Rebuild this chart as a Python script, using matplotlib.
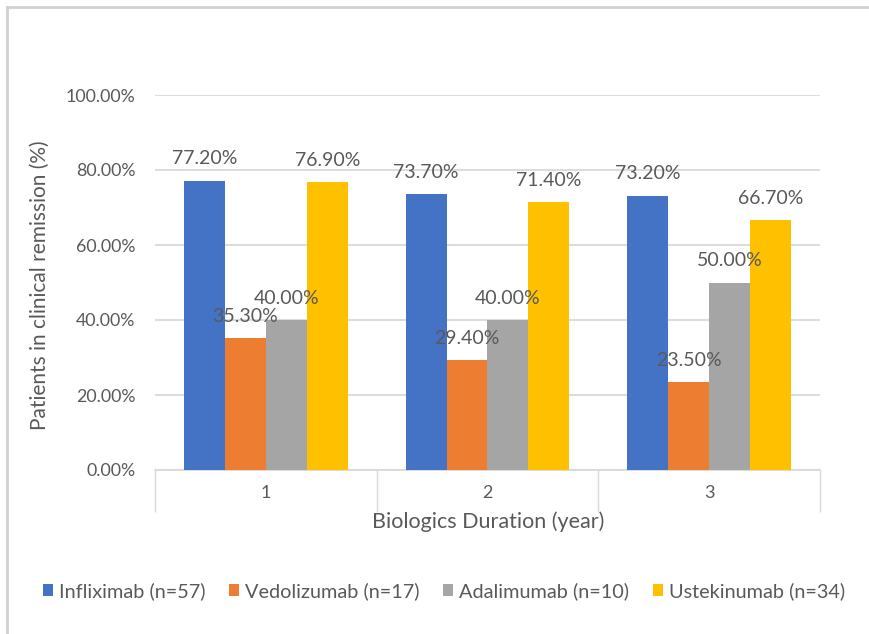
import matplotlib
matplotlib.use("Agg")
import matplotlib.pyplot as plt
import numpy as np
from matplotlib.lines import Line2D
from matplotlib.patches import Patch

plt.rcParams['font.family'] = ['Lato', 'DejaVu Sans']

categories = ["1", "2", "3"]
series_names = ["Infliximab (n=57)", "Vedolizumab (n=17)", "Adalimumab (n=10)", "Ustekinumab (n=34)"]
infliximab = [77.2, 73.7, 73.2]
vedolizumab = [35.3, 29.4, 23.5]
adalimumab = [40.0, 40.0, 50.0]
ustekinumab = [76.9, 71.4, 66.7]
yticks = [0, 20, 40, 60, 80, 100]

colors = ["#4472C4", "#ED7D31", "#A5A5A5", "#FFC000"]
text_color = "#595959"
grid_color = "#D9D9D9"

fig = plt.figure(figsize=(8.7, 6.34), dpi=100)
ax = fig.add_axes([155/870, 1-470/634, (820-155)/870, (470-95)/634])

x = np.arange(1, len(categories) + 1)
w = 41/222
all_series = [infliximab, vedolizumab, adalimumab, ustekinumab]
for k, (vals, c, name) in enumerate(zip(all_series, colors, series_names)):
    pos = x + (k - 1.5) * w
    ax.bar(pos, vals, width=w, color=c, label=name, zorder=3)
    for px, v in zip(pos, vals):
        ax.annotate(f"{v:.2f}%", (px, v), xytext=(0, 15.5), textcoords="offset points",
                    ha="center", va="center", fontsize=14, color=text_color, zorder=4)

ax.set_xlim(0.5, 3.5)
ax.set_ylim(0, 100)
ax.set_yticks(yticks)
ax.set_yticklabels([f"{t:.2f}%" for t in yticks])
ax.yaxis.grid(True, color=grid_color, linewidth=1.3, zorder=0)
ax.tick_params(axis='y', length=0, pad=14, labelsize=12.8, labelcolor=text_color)

ax.set_xticks(x)
ax.set_xticklabels(categories)
ax.set_xticks([0.5, 1.5, 2.5, 3.5], minor=True)
ax.tick_params(axis='x', which='major', length=0, pad=11, labelsize=13, labelcolor=text_color)
ax.tick_params(axis='x', which='minor', length=30, width=1, color=grid_color, direction='out')

for s in ["top", "right", "left"]:
    ax.spines[s].set_visible(False)
ax.spines["bottom"].set_color(grid_color)
ax.spines["bottom"].set_linewidth(1.3)

fig.text(488/870, 1-522/634, "Biologics Duration (year)", ha="center", va="center",
         fontsize=15.5, color=text_color)
fig.text(40/870, 1-285/634, "Patients in clinical remission (%)", ha="center", va="center",
         rotation=90, fontsize=15, color=text_color)

handles = [Patch(facecolor=c, edgecolor='none') for c in colors]
fig.legend(handles, series_names, loc="center", bbox_to_anchor=(444/870, 1-591/634), ncol=4,
           frameon=False, fontsize=14.3, handlelength=0.5, handleheight=0.5,
           handletextpad=0.3, columnspacing=1.2, labelcolor=text_color)

# outer frame lines (top and left)
fig.add_artist(Line2D([7/870, 1], [1-7/634, 1-7/634], color="#D0D0D0", linewidth=2, transform=fig.transFigure))
fig.add_artist(Line2D([7/870, 7/870], [0, 1-7/634], color="#D0D0D0", linewidth=2, transform=fig.transFigure))

fig.savefig("out.png", dpi=100, facecolor="white")
